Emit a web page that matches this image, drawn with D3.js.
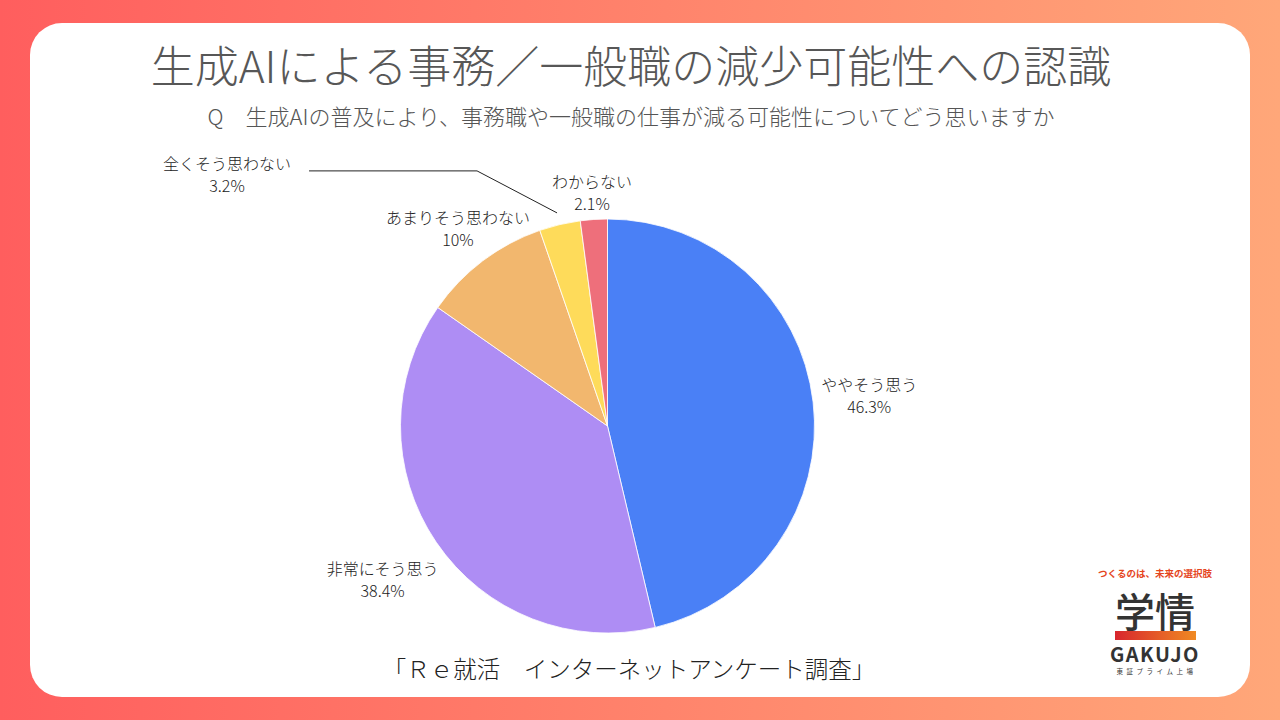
<!DOCTYPE html>
<html>
<head>
<meta charset="utf-8">
<script src="https://cdn.jsdelivr.net/npm/d3@7"></script>
<style>
  html, body { margin: 0; padding: 0; }
  body { width: 1280px; height: 720px; overflow: hidden; }
  text { font-family: "Noto Sans CJK JP", "Noto Sans", sans-serif; }
  .light { font-weight: 300; }
</style>
</head>
<body>
<svg id="chart" width="1280" height="720"></svg>
<script>
// answers, clockwise from 12 o'clock
var categories = ["ややそう思う", "非常にそう思う", "あまりそう思わない", "全くそう思わない", "わからない"];
var values = [46.3, 38.4, 10, 3.2, 2.1];
var sliceColors = ["#4a80f6", "#ae8df4", "#f2b76e", "#fedb5a", "#ee6f7b"];
var calloutLabels = ["全くそう思わない"];   // too thin, label goes on a leader line

var titleText = "生成AIによる事務／一般職の減少可能性への認識";
var subtitleText = "Q　生成AIの普及により、事務職や一般職の仕事が減る可能性についてどう思いますか";
var sourceText = "「Ｒｅ就活　インターネットアンケート調査」";

var W = 1280, H = 720;
var cx = 607.5, cy = 426, R = 207;

var svg = d3.select("#chart");
var defs = svg.append("defs");

var bg = defs.append("linearGradient").attr("id", "bgGrad")
    .attr("x1", "0%").attr("x2", "100%").attr("y1", "0%").attr("y2", "0%");
bg.append("stop").attr("offset", "0%").attr("stop-color", "#ff5e5e");
bg.append("stop").attr("offset", "100%").attr("stop-color", "#ffa779");

var bar = defs.append("linearGradient").attr("id", "logoGrad")
    .attr("x1", "0%").attr("x2", "100%");
bar.append("stop").attr("offset", "0%").attr("stop-color", "#d8262e");
bar.append("stop").attr("offset", "100%").attr("stop-color", "#f08a22");

svg.append("rect").attr("width", W).attr("height", H).attr("fill", "url(#bgGrad)");
svg.append("rect")
    .attr("x", 30).attr("y", 23).attr("width", 1220).attr("height", 674)
    .attr("rx", 32).attr("ry", 32)
    .attr("fill", "#fff");

// titles
svg.append("text")
    .attr("class", "light")
    .attr("x", 631).attr("y", 64)
    .attr("text-anchor", "middle").attr("dominant-baseline", "central")
    .attr("font-size", 44).attr("fill", "#575757")
    .text(titleText);

svg.append("text")
    .attr("class", "light")
    .attr("x", 631).attr("y", 115)
    .attr("text-anchor", "middle").attr("dominant-baseline", "central")
    .attr("font-size", 22).attr("fill", "#555")
    .text(subtitleText);

svg.append("text")
    .attr("class", "light")
    .attr("x", 629).attr("y", 668)
    .attr("text-anchor", "middle").attr("dominant-baseline", "central")
    .attr("font-size", 23.5).attr("fill", "#222")
    .text(sourceText);

// pie
var data = categories.map(function (c, i) {
    return { name: c, value: values[i], color: sliceColors[i] };
});
var pie = d3.pie().sort(null).value(function (d) { return d.value; });
var arc = d3.arc().innerRadius(0).outerRadius(R);
var arcs = pie(data);

var g = svg.append("g").attr("transform", "translate(" + cx + "," + cy + ")");

g.selectAll("path.slice")
    .data(arcs)
    .enter()
    .append("path")
    .attr("class", "slice")
    .attr("d", arc)
    .attr("fill", function (d) { return d.data.color; })
    .attr("stroke", "#fff")
    .attr("stroke-width", 0.8);

// labels
var fs = 16, pitch = 22, halfH = 7, pad = 9;
var measure = g.append("text").attr("class", "light").attr("font-size", fs).attr("visibility", "hidden");
function textWidth(s) {
    measure.text(s);
    return measure.node().getComputedTextLength();
}
function rectDist(x0, x1, y0, y1) {
    var nx = Math.max(x0, Math.min(0, x1));
    var ny = Math.max(y0, Math.min(0, y1));
    return Math.hypot(nx, ny);
}

arcs.forEach(function (a) {
    var mid = (a.startAngle + a.endAngle) / 2;
    var ux = Math.sin(mid), uy = -Math.cos(mid);
    var lines = [a.data.name, a.data.value + "%"];
    var widths = lines.map(textWidth);
    var lab = g.append("g").attr("class", "label");

    if (calloutLabels.indexOf(a.data.name) >= 0) {
        // leader line: short diagonal then a long horizontal run
        var sx = ux * (R + 12), sy = uy * (R + 12);
        var ex = sx - 80, ey = sy - 42;
        var hx = ex - 168;
        lab.append("path")
            .attr("d", d3.line()([[sx, sy], [ex, ey], [hx, ey]]))
            .attr("fill", "none").attr("stroke", "#222").attr("stroke-width", 1);
        var lx = hx - 18 - d3.max(widths) / 2;
        lines.forEach(function (t, i) {
            lab.append("text")
                .attr("class", "light")
                .attr("x", lx).attr("y", ey + 3.5 + (i - 0.5) * pitch)
                .attr("text-anchor", "middle").attr("dominant-baseline", "central")
                .attr("font-size", fs).attr("fill", "#222")
                .text(t);
        });
        return;
    }

    // push label outward along the slice middle until it clears the pie
    var d = R;
    for (; d < R + 200; d += 0.5) {
        var px = ux * d, py = uy * d;
        var m = d3.min(widths, function (w, i) {
            var ly = py + (i - 0.5) * pitch;
            return rectDist(px - w / 2, px + w / 2, ly - halfH, ly + halfH);
        });
        if (m >= R + pad) break;
    }
    var px = ux * d, py = uy * d;
    lines.forEach(function (t, i) {
        lab.append("text")
            .attr("class", "light")
            .attr("x", px).attr("y", py + (i - 0.5) * pitch)
            .attr("text-anchor", "middle").attr("dominant-baseline", "central")
            .attr("font-size", fs).attr("fill", "#222")
            .text(t);
    });
});
measure.remove();

// company logo, bottom right
var logo = svg.append("g").attr("transform", "translate(1155,0)");
logo.append("text")
    .attr("x", 0).attr("y", 573)
    .attr("text-anchor", "middle").attr("dominant-baseline", "central")
    .attr("font-size", 9.5).attr("font-weight", "bold").attr("fill", "#e5461e")
    .text("つくるのは、未来の選択肢");
logo.append("text")
    .attr("x", 0).attr("y", 627)
    .attr("text-anchor", "middle")
    .attr("font-size", 40).attr("font-weight", 500).attr("fill", "#333")
    .text("学情");
logo.append("rect")
    .attr("x", -40).attr("y", 631).attr("width", 81).attr("height", 9)
    .attr("fill", "url(#logoGrad)");
logo.append("text")
    .attr("x", 0).attr("y", 662)
    .attr("text-anchor", "middle")
    .attr("font-family", "'Noto Sans', sans-serif")
    .attr("font-size", 20).attr("font-weight", "bold").attr("fill", "#333")
    .attr("letter-spacing", 1.5)
    .text("GAKUJO");
logo.append("text")
    .attr("x", 1.5).attr("y", 671)
    .attr("text-anchor", "middle").attr("dominant-baseline", "central")
    .attr("font-size", 6.5).attr("fill", "#333")
    .attr("letter-spacing", 3.5)
    .text("東証プライム上場");
</script>
</body>
</html>
